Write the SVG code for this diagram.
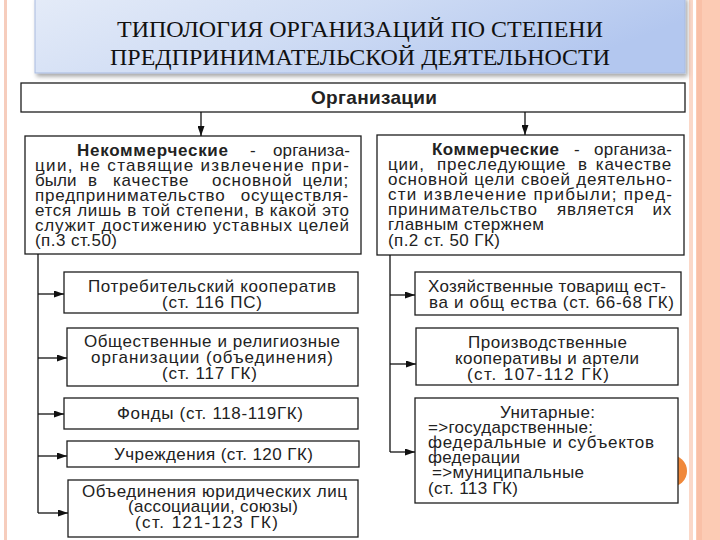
<svg xmlns="http://www.w3.org/2000/svg" width="720" height="540" viewBox="0 0 720 540">
<defs>
  <linearGradient id="tg" x1="0" y1="0" x2="1" y2="0.3">
    <stop offset="0" stop-color="#e4ebf8"/>
    <stop offset="0.5" stop-color="#cfdcf4"/>
    <stop offset="1" stop-color="#b3c7ef"/>
  </linearGradient>
  <filter id="sh" x="-5%" y="-20%" width="110%" height="150%">
    <feDropShadow dx="2" dy="3" stdDeviation="2" flood-color="#000" flood-opacity="0.35"/>
  </filter>
  <marker id="ah" viewBox="0 0 10 7" refX="10" refY="3.5" markerWidth="10" markerHeight="7" markerUnits="userSpaceOnUse" orient="auto">
    <path d="M0,0 L10,3.5 L0,7 z" fill="#111"/>
  </marker>
  <style>
    .box { fill:#fff; stroke:#1e1e1e; stroke-width:1.3; }
    .t { font-family:"Liberation Sans", Arial, sans-serif; font-size:17px; fill:#222; }
    .b { font-weight:bold; }
    .big { font-size:19px; }
    .ls { letter-spacing:0.8px; }
    .ttl { font-family:"Liberation Serif", "Times New Roman", serif; font-size:24px; fill:#111; }
    .conn { stroke:#111; stroke-width:1.3; fill:none; }
  </style>
</defs>

<rect x="0" y="0" width="720" height="540" fill="#fff"/>
<!-- decorative borders -->
<rect x="4" y="0" width="3" height="540" fill="#f6cdbd"/>
<rect x="689" y="0" width="4" height="540" fill="#fbd8c8"/>
<rect x="696" y="0" width="24" height="540" fill="#fccbb4"/>
<rect x="697" y="0" width="5" height="540" fill="#f9c0a7"/>

<g id="title">
  <rect x="35" y="-3" width="650" height="76" fill="url(#tg)" stroke="#a9bbe0" stroke-width="1" filter="url(#sh)"/>
  <text class="ttl" x="117" y="37" textLength="486" lengthAdjust="spacingAndGlyphs">ТИПОЛОГИЯ ОРГАНИЗАЦИЙ ПО СТЕПЕНИ</text>
  <text class="ttl" x="110" y="65" textLength="500" lengthAdjust="spacingAndGlyphs">ПРЕДПРИНИМАТЕЛЬСКОЙ ДЕЯТЕЛЬНОСТИ</text>
</g>

<g id="org">
  <rect class="box" x="21" y="83" width="664" height="29"/>
  <text class="t b big" x="311" y="104" textLength="126" lengthAdjust="spacing">Организации</text>
</g>

<g id="nonprofit">
  <rect class="box" x="25" y="136" width="336" height="118"/>
  <text class="t b" x="77" y="156" textLength="151" lengthAdjust="spacing">Некоммерческие</text>
  <text class="t" x="250" y="156">-</text>
  <text class="t" x="273" y="156" textLength="77" lengthAdjust="spacing">организа-</text>
  <text class="t" x="35" y="171" textLength="314" lengthAdjust="spacing">ции, не ставящие извлечение при-</text>
  <text class="t" x="35" y="186">были</text>
  <text class="t" x="88" y="186">в</text>
  <text class="t ls" x="113" y="186">качестве</text>
  <text class="t ls" x="212" y="186">основной</text>
  <text class="t ls" x="349" y="186" text-anchor="end">цели;</text>
  <text class="t ls" x="35" y="201">предпринимательство</text>
  <text class="t ls" x="349" y="201" text-anchor="end">осуществля-</text>
  <text class="t" x="35" y="216" textLength="314" lengthAdjust="spacing">ется лишь в той степени, в какой это</text>
  <text class="t" x="35" y="231" textLength="314" lengthAdjust="spacing">служит достижению уставных целей</text>
  <text class="t" x="35" y="246" textLength="82" lengthAdjust="spacing">(п.3 ст.50)</text>
</g>

<g id="commercial">
  <rect class="box" x="377" y="135" width="307" height="120"/>
  <text class="t b" x="432" y="155" textLength="127" lengthAdjust="spacing">Коммерческие</text>
  <text class="t" x="574" y="155">-</text>
  <text class="t" x="594" y="155" textLength="78" lengthAdjust="spacing">организа-</text>
  <text class="t ls" x="388" y="170">ции,</text>
  <text class="t ls" x="437" y="170">преследующие</text>
  <text class="t" x="578" y="170">в</text>
  <text class="t ls" x="672" y="170" text-anchor="end">качестве</text>
  <text class="t" x="388" y="185" textLength="284" lengthAdjust="spacing">основной цели своей деятельно-</text>
  <text class="t" x="388" y="200" textLength="284" lengthAdjust="spacing">сти извлечение прибыли; пред-</text>
  <text class="t ls" x="388" y="215">принимательство</text>
  <text class="t ls" x="557" y="215">является</text>
  <text class="t ls" x="672" y="215" text-anchor="end">их</text>
  <text class="t" x="388" y="230" textLength="156" lengthAdjust="spacing">главным стержнем</text>
  <text class="t" x="388" y="246" textLength="112" lengthAdjust="spacing">(п.2 ст. 50 ГК)</text>
</g>

<g id="consumer-coop">
  <rect class="box" x="64" y="272" width="294" height="41"/>
  <text class="t" x="88" y="292" textLength="248" lengthAdjust="spacing">Потребительский кооператив</text>
  <text class="t" x="162" y="308" textLength="100" lengthAdjust="spacing">(ст. 116 ПС)</text>
</g>

<g id="public-religious">
  <rect class="box" x="67" y="328" width="291" height="58"/>
  <text class="t" x="84" y="347" textLength="256" lengthAdjust="spacing">Общественные и религиозные</text>
  <text class="t" x="91" y="363" textLength="242" lengthAdjust="spacing">организации (объединения)</text>
  <text class="t" x="162" y="379" textLength="95" lengthAdjust="spacing">(ст. 117 ГК)</text>
</g>

<g id="funds">
  <rect class="box" x="64" y="398" width="294" height="31"/>
  <text class="t" x="117" y="419" textLength="186" lengthAdjust="spacing">Фонды (ст. 118-119ГК)</text>
</g>

<g id="institutions">
  <rect class="box" x="67" y="441" width="292" height="26"/>
  <text class="t" x="114" y="460" textLength="199" lengthAdjust="spacing">Учреждения (ст. 120 ГК)</text>
</g>

<g id="associations">
  <rect class="box" x="68" y="480" width="290" height="57"/>
  <text class="t" x="82" y="497" textLength="265" lengthAdjust="spacing">Объединения юридических лиц</text>
  <text class="t" x="128" y="512" textLength="170" lengthAdjust="spacing">(ассоциации, союзы)</text>
  <text class="t" x="135" y="528" textLength="143" lengthAdjust="spacing">(ст. 121-123 ГК)</text>
</g>

<g id="partnerships">
  <rect class="box" x="415" y="272" width="266" height="43"/>
  <text class="t" x="428" y="292" textLength="238" lengthAdjust="spacing">Хозяйственные товарищ ест-</text>
  <text class="t" x="429" y="308" textLength="245" lengthAdjust="spacing">ва и общ ества (ст. 66-68 ГК)</text>
</g>

<g id="production-coops">
  <rect class="box" x="416" y="328" width="262" height="57"/>
  <text class="t" x="468" y="348" textLength="159" lengthAdjust="spacing">Производственные</text>
  <text class="t" x="455" y="364" textLength="184" lengthAdjust="spacing">кооперативы и артели</text>
  <text class="t" x="467" y="380" textLength="142" lengthAdjust="spacing">(ст. 107-112 ГК)</text>
</g>

<circle cx="671" cy="471" r="16" fill="#f0883a"/>

<g id="unitary">
  <rect class="box" x="415" y="398" width="263" height="105"/>
  <text class="t" x="500" y="418" textLength="95" lengthAdjust="spacing">Унитарные:</text>
  <text class="t" x="428" y="433" textLength="165" lengthAdjust="spacing">=&gt;государственные:</text>
  <text class="t" x="428" y="448" textLength="226" lengthAdjust="spacing">федеральные и субъектов</text>
  <text class="t" x="428" y="463" textLength="92" lengthAdjust="spacing">федерации</text>
  <text class="t" x="432" y="478" textLength="152" lengthAdjust="spacing">=&gt;муниципальные</text>
  <text class="t" x="428" y="494" textLength="90" lengthAdjust="spacing">(ст. 113 ГК)</text>
</g>

<g id="connectors">
  <path class="conn" d="M201,112 V136" marker-end="url(#ah)"/>
  <path class="conn" d="M525,112 V135" marker-end="url(#ah)"/>
  <path class="conn" d="M38,254 V513"/>
  <path class="conn" d="M38,294 H64" marker-end="url(#ah)"/>
  <path class="conn" d="M38,358 H67" marker-end="url(#ah)"/>
  <path class="conn" d="M38,414 H64" marker-end="url(#ah)"/>
  <path class="conn" d="M38,456 H67" marker-end="url(#ah)"/>
  <path class="conn" d="M38,513 H68" marker-end="url(#ah)"/>
  <path class="conn" d="M390,255 V452"/>
  <path class="conn" d="M390,295 H415" marker-end="url(#ah)"/>
  <path class="conn" d="M390,364 H416" marker-end="url(#ah)"/>
  <path class="conn" d="M390,452 H415" marker-end="url(#ah)"/>
</g>
</svg>
